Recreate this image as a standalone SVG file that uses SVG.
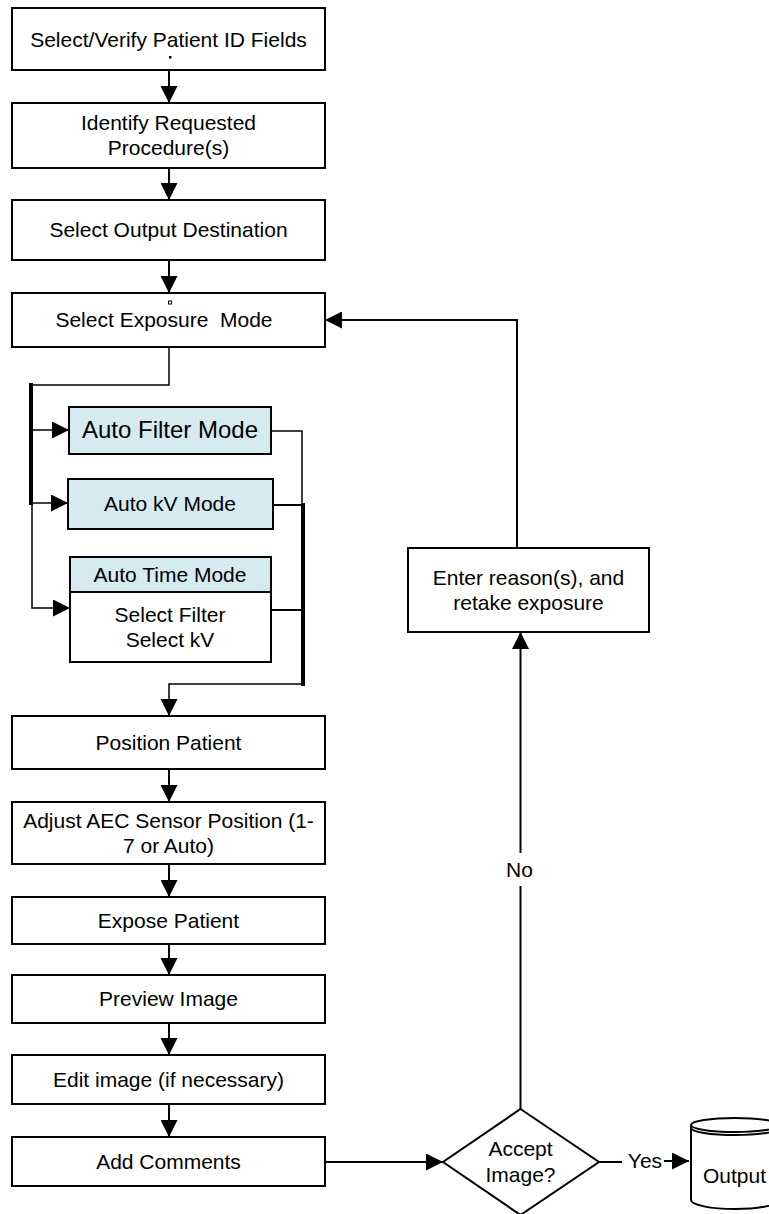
<svg xmlns="http://www.w3.org/2000/svg" width="769" height="1214" viewBox="0 0 769 1214">
<defs>
<style>
.box{fill:#fff;stroke:#000;stroke-width:2}
.blue{fill:#d5ebf1;stroke:#000;stroke-width:2}
.t{font-family:"Liberation Sans",Arial,sans-serif;font-size:21px;fill:#000;text-anchor:middle;white-space:pre}
.c{fill:none;stroke:#000;stroke-width:2}
.thin{fill:none;stroke:#000;stroke-width:1.5}
.thick{fill:none;stroke:#000;stroke-width:4}
</style>
<marker id="ah" markerUnits="userSpaceOnUse" markerWidth="17" markerHeight="17" refX="17" refY="8.5" orient="auto" viewBox="0 0 17 17">
<path d="M0,0 L17,8.5 L0,17 z" fill="#000"/>
</marker>
</defs>
<rect width="769" height="1214" fill="#fff"/>

<g id="connectors">
<path class="c" d="M169,70 V103" marker-end="url(#ah)"/>
<path class="c" d="M169,168 V200" marker-end="url(#ah)"/>
<path class="c" d="M169,260 V293" marker-end="url(#ah)"/>
<path class="thin" d="M169,347 V385 H31"/>
<path class="thick" d="M31,383 V505"/>
<path class="thin" d="M32,505 V608 H70" marker-end="url(#ah)"/>
<path class="thin" d="M31,430 H69" marker-end="url(#ah)"/>
<path class="thin" d="M31,503 H68" marker-end="url(#ah)"/>
<path class="thin" d="M271,431 H302 V505"/>
<path class="c" d="M273,505 H303"/>
<path class="thick" d="M303,503 V686"/>
<path class="c" d="M271,610 H303"/>
<path class="thin" d="M303,684 H169 V716" marker-end="url(#ah)"/>
<path class="c" d="M169,769 V802" marker-end="url(#ah)"/>
<path class="c" d="M169,864 V897" marker-end="url(#ah)"/>
<path class="c" d="M169,944 V975" marker-end="url(#ah)"/>
<path class="c" d="M169,1023 V1055" marker-end="url(#ah)"/>
<path class="c" d="M169,1104 V1137" marker-end="url(#ah)"/>
<path class="c" d="M325,1162 H443" marker-end="url(#ah)"/>
<path class="c" d="M599,1162 H622"/>
<path class="c" d="M664,1161 H689" marker-end="url(#ah)"/>
<path class="c" d="M520.5,1109 V886"/>
<path class="c" d="M520.5,853 V632" marker-end="url(#ah)"/>
<path class="c" d="M517,548 V320 H325" marker-end="url(#ah)"/>
<text class="t" x="519.5" y="877">No</text>
<text class="t" x="645" y="1168">Yes</text>
</g>

<g id="n1">
<rect class="box" x="12" y="8" width="313" height="62"/>
<text class="t" x="168.5" y="47">Select/Verify Patient ID Fields</text>
<rect x="169" y="56" width="2.5" height="2.5" fill="#000"/>
</g>
<g id="n2">
<rect class="box" x="12" y="103" width="313" height="65"/>
<text class="t" x="168.5" y="130">Identify Requested</text>
<text class="t" x="168.5" y="155">Procedure(s)</text>
</g>
<g id="n3">
<rect class="box" x="12" y="200" width="313" height="60"/>
<text class="t" x="168.5" y="237">Select Output Destination</text>
</g>
<g id="n4">
<rect class="box" x="12" y="293" width="313" height="54"/>
<text class="t" x="164" y="327">Select Exposure  Mode</text>
<rect x="168.5" y="301" width="3" height="3" fill="#fff" stroke="#000" stroke-width="1"/>
</g>
<g id="n5">
<rect class="blue" x="69" y="407" width="202" height="47"/>
<text class="t" x="170" y="438" style="font-size:24px">Auto Filter Mode</text>
</g>
<g id="n6">
<rect class="blue" x="68" y="479" width="205" height="50"/>
<text class="t" x="170" y="511">Auto kV Mode</text>
</g>
<g id="n7">
<rect class="blue" x="70" y="557" width="201" height="35"/>
<rect class="box" x="70" y="592" width="201" height="70"/>
<text class="t" x="170" y="582">Auto Time Mode</text>
<text class="t" x="170" y="622">Select Filter</text>
<text class="t" x="170" y="647">Select kV</text>
</g>
<g id="n8">
<rect class="box" x="12" y="716" width="313" height="53"/>
<text class="t" x="168.5" y="750">Position Patient</text>
</g>
<g id="n9">
<rect class="box" x="12" y="802" width="313" height="62"/>
<text class="t" x="168.5" y="828">Adjust AEC Sensor Position (1-</text>
<text class="t" x="168.5" y="853">7 or Auto)</text>
</g>
<g id="n10">
<rect class="box" x="12" y="897" width="313" height="47"/>
<text class="t" x="168.5" y="928">Expose Patient</text>
</g>
<g id="n11">
<rect class="box" x="12" y="975" width="313" height="48"/>
<text class="t" x="168.5" y="1006">Preview Image</text>
</g>
<g id="n12">
<rect class="box" x="12" y="1055" width="313" height="49"/>
<text class="t" x="168.5" y="1087">Edit image (if necessary)</text>
</g>
<g id="n13">
<rect class="box" x="12" y="1137" width="313" height="49"/>
<text class="t" x="168.5" y="1169">Add Comments</text>
</g>
<g id="n14">
<polygon class="box" points="520.5,1109 599,1162 520.5,1215 443,1162"/>
<text class="t" x="520.5" y="1156">Accept</text>
<text class="t" x="520.5" y="1182">Image?</text>
</g>
<g id="n15">
<rect class="box" x="408" y="548" width="241" height="84"/>
<text class="t" x="528.5" y="585">Enter reason(s), and</text>
<text class="t" x="528.5" y="610">retake exposure</text>
</g>
<g id="n16">
<path class="box" d="M691,1125 V1200 A44,9 0 0 0 779,1200 V1125"/>
<ellipse class="box" cx="735" cy="1125" rx="44" ry="7"/>
<path class="c" d="M691,1128 A44,7 0 0 0 779,1128"/>
<text class="t" x="734.5" y="1183">Output</text>
</g>
</svg>
